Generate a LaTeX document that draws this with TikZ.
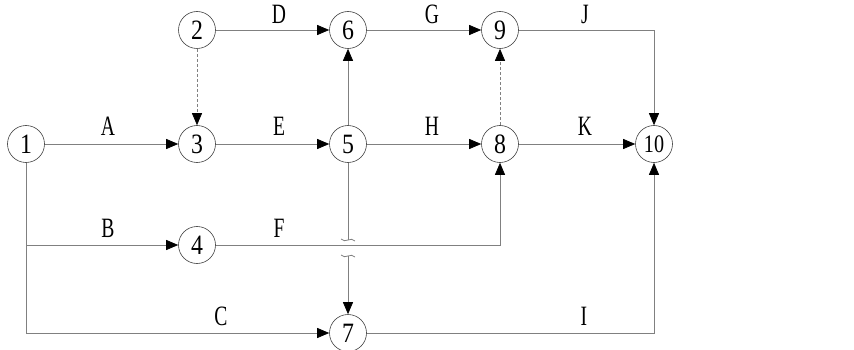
\documentclass[tikz,border=0pt]{standalone}
\usepackage{fontspec}
\setmainfont{Liberation Serif}
\usetikzlibrary{arrows.meta}
\newcommand{\narrow}[1]{\scalebox{0.7}[1]{#1}}
\begin{document}
\begin{tikzpicture}[x=1pt,y=-1pt,
  ev/.style={circle,draw=black!75,line width=0.6pt,minimum size=37pt,inner sep=0pt,
             font=\fontsize{28}{28}\selectfont},
  act/.style={draw=black!50,line width=0.8pt},
  arr/.style={act,-{Triangle[length=12pt,width=10pt,color=black]}},
  dummy/.style={arr,dash pattern=on 3pt off 2pt},
  lbl/.style={font=\fontsize{28}{28}\selectfont,inner sep=0pt}]
\useasboundingbox (0,0) rectangle (854,350);
% events
\node[ev] (n1) at (26,144) {\scalebox{0.85}[1]{1}};
\node[ev] (n2) at (197,30) {\scalebox{0.85}[1]{2}};
\node[ev] (n3) at (197,144) {\scalebox{0.85}[1]{3}};
\node[ev] (n4) at (197,245) {\scalebox{0.85}[1]{4}};
\node[ev] (n5) at (348,144) {\scalebox{0.85}[1]{5}};
\node[ev] (n6) at (348,30) {\scalebox{0.85}[1]{6}};
\node[ev] (n7) at (348,333) {\scalebox{0.85}[1]{7}};
\node[ev] (n8) at (500,144) {\scalebox{0.85}[1]{8}};
\node[ev] (n9) at (500,30) {\scalebox{0.85}[1]{9}};
\node[ev] (n10) at (654,144) {\scalebox{0.72}[0.9]{10}};
% corner points
\coordinate (cB) at (26,245);
\coordinate (cC) at (26,333);
\coordinate (cF) at (500,245);
\coordinate (cJ) at (654,30);
\coordinate (cI) at (654,333);
\coordinate (jTop) at (348,240);
\coordinate (jBot) at (348,256);
% activities
\draw[arr] (n1) -- (n3);
\draw[arr] (n3) -- (n5);
\draw[arr] (n5) -- (n8);
\draw[arr] (n8) -- (n10);
\draw[arr] (n2) -- (n6);
\draw[arr] (n6) -- (n9);
\draw[arr] (n9) -- (cJ) -- (n10);
\draw[arr] (n5) -- (n6);
\draw[dummy] (n2) -- (n3);
\draw[dummy] (n8) -- (n9);
\draw[arr] (n1) -- (cC) -- (n7);
\draw[arr] (cB) -- (n4);
\draw[arr] (n4) -- (cF) -- (n8);
\draw[arr] (n7) -- (cI) -- (n10);
% 5 -> 7 with line jump over F
\draw[act] (n5) -- (jTop);
\draw[act] ([xshift=-7pt,yshift=1pt]jTop) .. controls ([xshift=-3pt,yshift=-4pt]jTop) and ([xshift=3pt,yshift=4pt]jTop) .. ([xshift=7pt,yshift=-1pt]jTop);
\draw[act] ([xshift=-7pt,yshift=1pt]jBot) .. controls ([xshift=-3pt,yshift=-4pt]jBot) and ([xshift=3pt,yshift=4pt]jBot) .. ([xshift=7pt,yshift=-1pt]jBot);
\draw[arr] (jBot) -- (n7);
% labels
\node[lbl] (lA) at (108,126) {\narrow{A}};
\node[lbl] (lB) at (108,228) {\narrow{B}};
\node[lbl] (lC) at (221,316) {\narrow{C}};
\node[lbl] (lD) at (279,14) {\narrow{D}};
\node[lbl] (lE) at (279,126) {\narrow{E}};
\node[lbl] (lF) at (279,228) {\narrow{F}};
\node[lbl] (lG) at (432,14) {\narrow{G}};
\node[lbl] (lH) at (432,126) {\narrow{H}};
\node[lbl] (lI) at (584,316) {\narrow{I}};
\node[lbl] (lJ) at (585,14) {\narrow{J}};
\node[lbl] (lK) at (585,126) {\narrow{K}};
\end{tikzpicture}
\end{document}
